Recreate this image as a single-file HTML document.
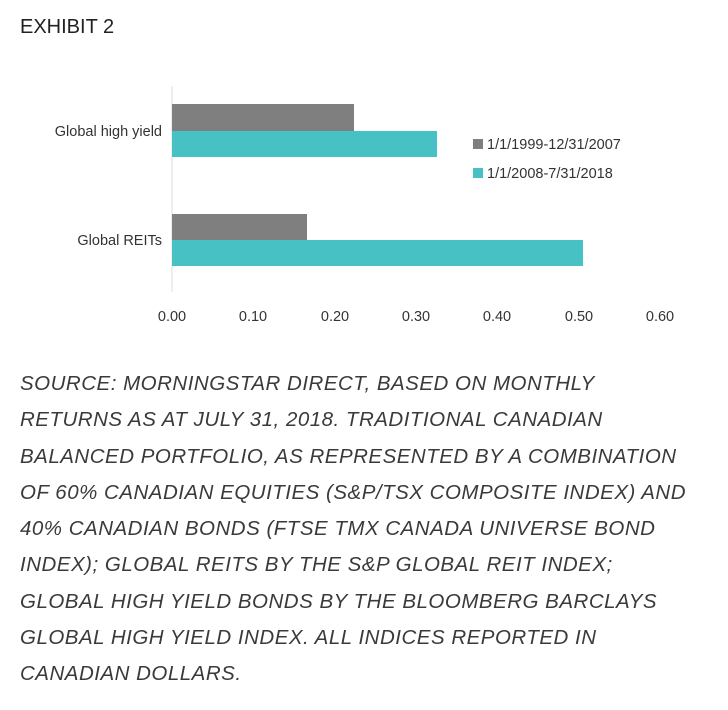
<!DOCTYPE html>
<html><head><style>
body{margin:0;width:728px;height:710px;background:#fff;font-family:"Liberation Sans",sans-serif;color:#333;position:relative;overflow:hidden}
.t{position:absolute}
</style></head><body>
<div class="t" style="left:20px;top:16px;font-size:20px;color:#222">EXHIBIT 2</div>
<svg class="t" style="left:0;top:0" width="728" height="340">
<line x1="172" y1="86" x2="172" y2="292" stroke="#ddd" stroke-width="1"/>
<rect x="172" y="104" width="182" height="27" fill="#7f7f7f"/>
<rect x="172" y="131" width="265" height="26" fill="#48c1c5"/>
<rect x="172" y="214" width="135" height="26" fill="#7f7f7f"/>
<rect x="172" y="240" width="411" height="26" fill="#48c1c5"/>
<g font-size="14.5" fill="#333" text-anchor="end">
<text x="162" y="136">Global high yield</text>
<text x="162" y="245">Global REITs</text>
</g>
<g font-size="14.5" fill="#333" text-anchor="middle">
<text x="172" y="321">0.00</text><text x="253" y="321">0.10</text><text x="335" y="321">0.20</text>
<text x="416" y="321">0.30</text><text x="497" y="321">0.40</text><text x="579" y="321">0.50</text><text x="660" y="321">0.60</text>
</g>
<rect x="473" y="139" width="10" height="10" fill="#7f7f7f"/>
<rect x="473" y="168" width="10" height="10" fill="#48c1c5"/>
<g font-size="14.5" fill="#333"><text x="487" y="149">1/1/1999-12/31/2007</text><text x="487" y="178">1/1/2008-7/31/2018</text></g>
</svg>
<div class="t" style="left:20px;top:366px;width:705px;font-size:20.5px;line-height:36.3px;font-style:italic;color:#3a3a3a;letter-spacing:0.5px">SOURCE: MORNINGSTAR DIRECT, BASED ON MONTHLY<br>RETURNS AS AT JULY 31, 2018. TRADITIONAL CANADIAN<br>BALANCED PORTFOLIO, AS REPRESENTED BY A COMBINATION<br>OF 60% CANADIAN EQUITIES (S&amp;P/TSX COMPOSITE INDEX) AND<br>40% CANADIAN BONDS (FTSE TMX CANADA UNIVERSE BOND<br>INDEX); GLOBAL REITS BY THE S&amp;P GLOBAL REIT INDEX;<br>GLOBAL HIGH YIELD BONDS BY THE BLOOMBERG BARCLAYS<br>GLOBAL HIGH YIELD INDEX. ALL INDICES REPORTED IN<br>CANADIAN DOLLARS.</div>
</body></html>
